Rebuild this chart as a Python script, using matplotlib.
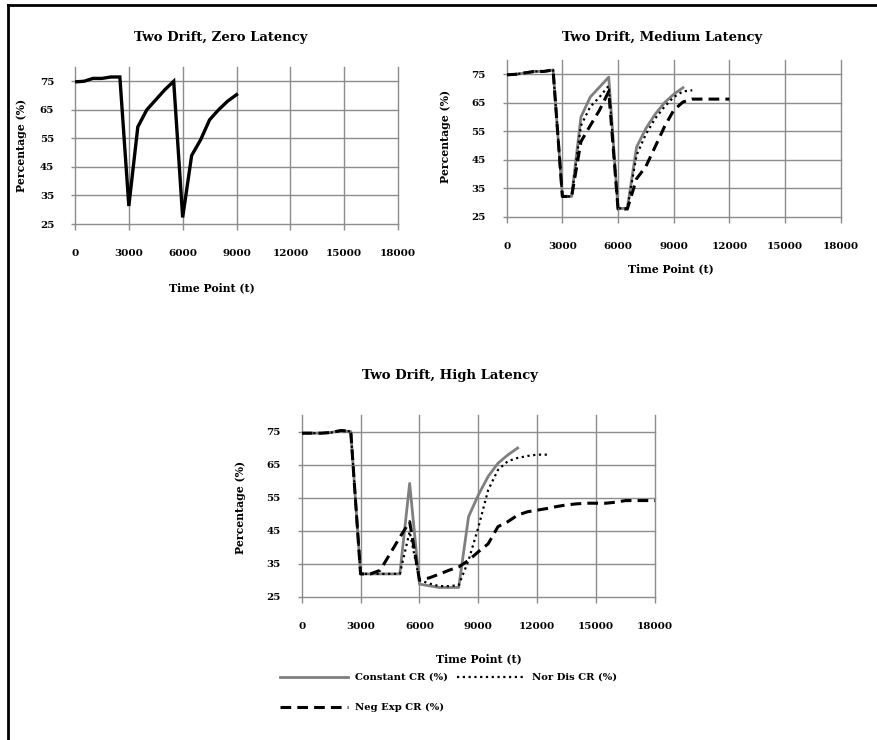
import matplotlib
matplotlib.use("Agg")
import matplotlib.pyplot as plt
from matplotlib.lines import Line2D

# ---------------- data ----------------
x_ticks = [0, 3000, 6000, 9000, 12000, 15000, 18000]
y_ticks = [25, 35, 45, 55, 65, 75]

# Zero latency (all methods coincide)
zero_t = [0, 500, 1000, 1500, 2000, 2500, 3000, 3500, 4000, 4500, 5000, 5500,
          6000, 6500, 7000, 7500, 8000, 8500, 9000]
zero_cr = [74.8, 75.0, 76.0, 76.0, 76.5, 76.5, 31.3, 59.0, 65.0, 68.5, 72.0, 75.0,
           27.3, 49.0, 54.5, 61.5, 65.0, 68.0, 70.3]

# Medium latency
med_const_t = [0, 500, 1000, 1500, 2000, 2500, 3000, 3500, 4000, 4500, 5000, 5500,
               6000, 6500, 7000, 7500, 8000, 8500, 9000, 9500]
med_const = [74.8, 75.0, 75.5, 76.0, 76.0, 76.5, 32.2, 32.2, 60.0, 67.0, 70.5, 74.0,
             28.0, 28.0, 49.5, 56.0, 61.0, 65.0, 68.0, 70.3]
med_nor_t = [0, 500, 1000, 1500, 2000, 2500, 3000, 3500, 4000, 4500, 5000, 5500,
             6000, 6500, 7000, 7500, 8000, 8500, 9000, 9500, 10000]
med_nor = [74.8, 75.0, 75.5, 76.0, 76.0, 76.5, 32.2, 32.2, 57.0, 63.6, 67.0, 71.0,
           28.0, 28.0, 46.7, 54.0, 59.5, 63.6, 67.0, 69.0, 69.4]
med_neg_t = [0, 500, 1000, 1500, 2000, 2500, 3000, 3500, 4000, 4500, 5000, 5500,
             6000, 6500, 7000, 7500, 8000, 8500, 9000, 9500, 10000, 10500, 11000,
             11500, 12000]
med_neg = [74.8, 75.0, 75.5, 76.0, 76.0, 76.5, 32.2, 32.2, 51.4, 57.0, 62.4, 69.0,
           27.8, 27.8, 38.4, 42.7, 49.6, 56.6, 62.4, 65.3, 66.3, 66.3, 66.3, 66.3, 66.3]

# High latency
high_const_t = [0, 500, 1000, 1500, 2000, 2500, 3000, 3500, 4000, 4500, 5000, 5500,
                6000, 6500, 7000, 7500, 8000, 8500, 9000, 9500, 10000, 10500, 11000]
high_const = [74.5, 74.5, 74.5, 74.7, 75.3, 75.0, 31.9, 31.9, 31.9, 31.9, 31.9, 59.3,
              28.8, 28.3, 27.8, 27.8, 27.8, 49.2, 55.8, 61.4, 65.4, 67.9, 70.0]
high_nor_t = [0, 500, 1000, 1500, 2000, 2500, 3000, 3500, 4000, 4500, 5000, 5500,
              6000, 6500, 7000, 7500, 8000, 8500, 9000, 9500, 10000, 10500, 11000,
              11500, 12000, 12500]
high_nor = [74.5, 74.5, 74.5, 74.7, 75.3, 75.0, 31.9, 31.9, 31.9, 31.9, 31.9, 44.7,
            30.0, 29.0, 28.2, 28.2, 28.5, 36.0, 46.0, 57.3, 63.4, 66.0, 67.0, 67.6,
            68.0, 68.0]
high_neg_t = [0, 500, 1000, 1500, 2000, 2500, 3000, 3500, 4000, 4500, 5000, 5500,
              6000, 6500, 7000, 7500, 8000, 8500, 9000, 9500, 10000, 10500, 11000,
              11500, 12000, 12500, 13000, 13500, 14000, 14500, 15000, 15500, 16000,
              16500, 17000, 17500, 18000]
high_neg = [74.5, 74.5, 74.5, 74.7, 75.3, 75.0, 31.9, 31.9, 33.0, 38.0, 43.0, 47.7,
            30.0, 30.7, 31.8, 33.0, 34.0, 36.0, 38.6, 41.0, 46.2, 47.7, 49.7, 50.7,
            51.2, 51.7, 52.3, 52.8, 53.1, 53.3, 53.3, 53.3, 53.6, 54.1, 54.1, 54.1, 54.1]

titles = ["Two Drift, Zero Latency", "Two Drift, Medium Latency", "Two Drift, High Latency"]
x_label = "Time Point (t)"
y_label = "Percentage (%)"
legend_labels = ["Constant CR (%)", "Nor Dis CR (%)", "Neg Exp CR (%)"]

# ---------------- figure ----------------
W, H = 877, 740
fig = plt.figure(figsize=(W / 100, H / 100), dpi=100)
FONT = "DejaVu Serif"
GRID = "#8c8c8c"
CONST_C = "#7f7f7f"
TICK_FS = 7.5
LABEL_FS = 7.8
TITLE_FS = 9.5


def box(l, r, t, b):
    return [l / W, 1 - b / H, (r - l) / W, (b - t) / H]


def style(ax):
    ax.set_xlim(0, 18000)
    ax.set_ylim(25, 80)
    ax.set_xticks(x_ticks)
    ax.set_yticks(y_ticks)
    ax.set_xticklabels([str(v) for v in x_ticks], fontfamily=FONT, fontweight="bold", fontsize=TICK_FS)
    ax.set_yticklabels([str(v) for v in y_ticks], fontfamily=FONT, fontweight="bold", fontsize=TICK_FS)
    for s in ax.spines.values():
        s.set_visible(False)
    ax.grid(True, color=GRID, lw=1.0)
    ax.set_axisbelow(True)
    for gl in ax.get_xgridlines() + ax.get_ygridlines():
        gl.set_clip_on(False)
    ax.tick_params(axis="x", length=4, width=1.0, color=GRID, pad=14, direction="out")
    ax.tick_params(axis="y", length=3, width=1.0, color=GRID, pad=12, direction="out")


def ftext(x, y, s, size, rot=0):
    fig.text(x / W, 1 - y / H, s, ha="center", va="center", rotation=rot,
             fontfamily=FONT, fontweight="bold", fontsize=size)


# Chart 1
ax1 = fig.add_axes(box(75, 398, 67, 224))
style(ax1)
ax1.plot(zero_t, zero_cr, color="black", lw=2.4, solid_joinstyle="miter")
ftext(221, 38, titles[0], TITLE_FS)
ftext(212, 288, x_label, LABEL_FS)
ftext(22, 145, y_label, LABEL_FS, rot=90)

# Chart 2
ax2 = fig.add_axes(box(506.7, 840.7, 60, 217))
style(ax2)
ax2.plot(med_const_t, med_const, color=CONST_C, lw=2.0)
ax2.plot(med_nor_t, med_nor, color="black", lw=1.6, ls=(0, (1, 1.6)))
ax2.plot(med_neg_t, med_neg, color="black", lw=2.2, ls=(0, (3.5, 2)))
ftext(662, 38, titles[1], TITLE_FS)
ftext(671, 269, x_label, LABEL_FS)
ftext(445, 136, y_label, LABEL_FS, rot=90)

# Chart 3
ax3 = fig.add_axes(box(301.7, 655, 415, 596.7))
style(ax3)
ax3.plot(high_const_t, high_const, color=CONST_C, lw=2.0)
ax3.plot(high_nor_t, high_nor, color="black", lw=1.6, ls=(0, (1, 1.6)))
ax3.plot(high_neg_t, high_neg, color="black", lw=2.2, ls=(0, (3.5, 2)))
ftext(450, 376, titles[2], TITLE_FS)
ftext(479, 659, x_label, LABEL_FS)
ftext(240, 507, y_label, LABEL_FS, rot=90)

# Legend (row-major order: Constant, Nor Dis / Neg Exp)
h_const = Line2D([], [], color=CONST_C, lw=2.0)
h_nor = Line2D([], [], color="black", lw=1.6, ls=(0, (1, 1.6)))
h_neg = Line2D([], [], color="black", lw=2.2, ls=(0, (3.5, 2)))
leg = fig.legend([h_const, h_neg, h_nor], [legend_labels[0], legend_labels[2], legend_labels[1]],
                 ncol=2, loc="upper left", bbox_to_anchor=(280 / W, 1 - 673 / H),
                 frameon=False, handlelength=6.8, handletextpad=0.7, columnspacing=0.9,
                 labelspacing=2.1, borderpad=0.0, borderaxespad=0.0,
                 prop={"family": FONT, "weight": "bold", "size": 7.2})

# Border lines (top and left)
fig.add_artist(Line2D([8 / W, 8 / W], [0, 1 - 5 / H], color="black", lw=2.0))
fig.add_artist(Line2D([8 / W, 1], [1 - 5 / H, 1 - 5 / H], color="black", lw=2.0))

fig.savefig("out.png", dpi=100, facecolor="white")
